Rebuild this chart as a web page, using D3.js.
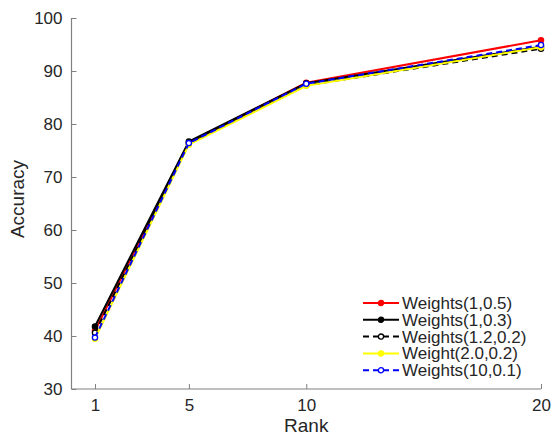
<!DOCTYPE html>
<html>
<head>
<meta charset="utf-8">
<script src="https://cdn.jsdelivr.net/npm/d3@7"></script>
<style>
  body { margin: 0; background: #fff; }
  text { font-family: "Liberation Sans", Arial, sans-serif; fill: #262626; }
</style>
</head>
<body>
<div id="chart"></div>
<script>
// data
var ranks = [1, 5, 10, 20];
var names = ['Weights(1,0.5)', 'Weights(1,0.3)', 'Weights(1.2,0.2)', 'Weight(2.0,0.2)', 'Weights(10,0.1)'];
var w105 = [41.0, 76.5, 87.8, 95.8];
var w103 = [41.8, 76.7, 87.7, 94.6];
var w1202 = [40.6, 76.3, 87.3, 94.2];
var w2002 = [39.5, 76.1, 87.2, 94.5];
var w1001 = [39.7, 76.4, 87.6, 94.9];
var yTicks = [30, 40, 50, 60, 70, 80, 90, 100];

var series = [
	{name: names[0], values: w105, color: '#ff0000', dash: null, open: false},
	{name: names[1], values: w103, color: '#000000', dash: null, open: false},
	{name: names[2], values: w1202, color: '#000000', dash: '6,4', open: true},
	{name: names[3], values: w2002, color: '#ffff00', dash: null, open: false},
	{name: names[4], values: w1001, color: '#0000ff', dash: '6,4', open: true}
];

var width = 555, height = 442;
var svg = d3.select('#chart').append('svg')
	.attr('width', width)
	.attr('height', height);

var x = d3.scaleLinear().domain([0, 20]).range([71.5, 541]);
var y = d3.scaleLinear().domain([30, 100]).range([389, 18]);

// axes
var xAxis = svg.append('g').attr('transform', 'translate(0,389)')
	.call(d3.axisBottom(x).tickValues(ranks).tickSizeInner(-5).tickSizeOuter(0).tickPadding(10));
var yAxis = svg.append('g').attr('transform', 'translate(71.5,0)')
	.call(d3.axisLeft(y).tickValues(yTicks).tickSizeInner(-5).tickSizeOuter(0).tickPadding(9));

[xAxis, yAxis].forEach(function(a) {
	a.select('.domain').attr('stroke', '#808080').attr('stroke-width', 1.2);
	a.selectAll('.tick line').attr('stroke', '#808080');
	a.selectAll('.tick text').style('font-size', '17px').attr('fill', '#262626');
});
xAxis.select('.domain').attr('d', 'M71.5,0H541');
yAxis.select('.domain').attr('d', 'M0,389V18');

svg.append('text')
	.attr('x', x(10)).attr('y', 432)
	.attr('text-anchor', 'middle')
	.style('font-size', '19px')
	.text('Rank');

svg.append('text')
	.attr('transform', 'translate(24,199) rotate(-90)')
	.attr('text-anchor', 'middle')
	.style('font-size', '19px')
	.text('Accuracy');

var line = d3.line()
	.x(function(d, i) { return x(ranks[i]); })
	.y(function(d) { return y(d); });

series.forEach(function(s) {
	svg.append('path')
		.datum(s.values)
		.attr('d', line)
		.attr('fill', 'none')
		.attr('stroke', s.color)
		.attr('stroke-width', 2)
		.attr('stroke-dasharray', s.dash);
	svg.selectAll(null)
		.data(s.values)
		.enter().append('circle')
		.attr('cx', function(d, i) { return x(ranks[i]); })
		.attr('cy', function(d) { return y(d); })
		.attr('r', 2.6)
		.attr('fill', s.open ? '#fff' : s.color)
		.attr('stroke', s.color)
		.attr('stroke-width', 1.3);
});

// legend
var legend = svg.append('g').attr('transform', 'translate(363,303)');
var rows = legend.selectAll('g')
	.data(series)
	.enter().append('g')
	.attr('transform', function(d, i) { return 'translate(0,' + i * 16.8 + ')'; });

rows.append('line')
	.attr('x1', 0).attr('x2', 36)
	.attr('stroke', function(d) { return d.color; })
	.attr('stroke-width', 2)
	.attr('stroke-dasharray', function(d) { return d.dash; });
rows.append('circle')
	.attr('cx', 18)
	.attr('r', 2.6)
	.attr('fill', function(d) { return d.open ? '#fff' : d.color; })
	.attr('stroke', function(d) { return d.color; })
	.attr('stroke-width', 1.3);
rows.append('text')
	.attr('x', 39)
	.attr('y', 6)
	.style('font-size', '17px')
	.text(function(d) { return d.name; });
</script>
</body>
</html>
